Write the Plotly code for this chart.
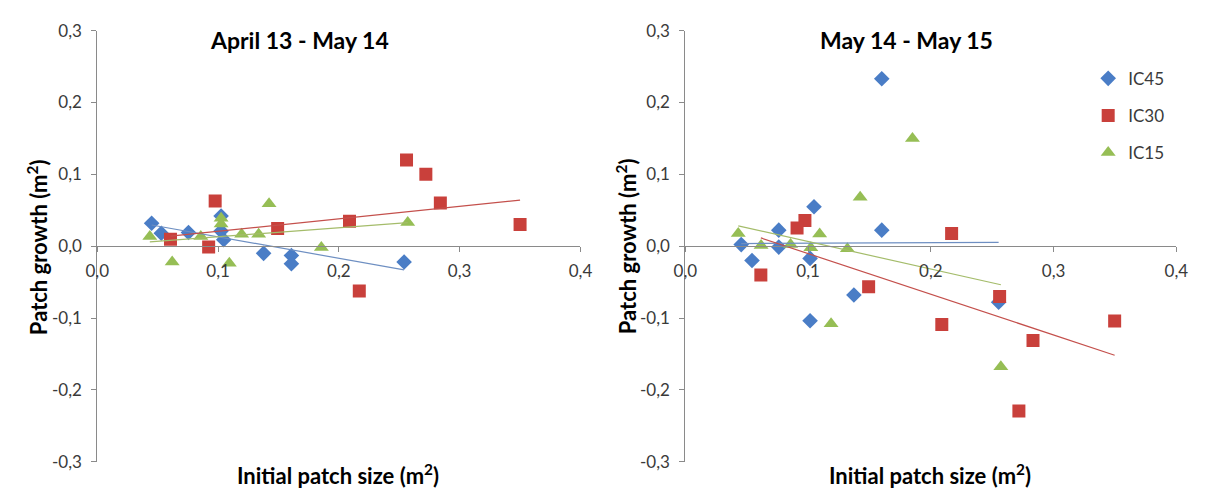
import numpy as np
import plotly.graph_objects as go

# ---------------- data ----------------
x_ticks = [0.0, 0.1, 0.2, 0.3, 0.4]
x_tick_labels = ["0,0", "0,1", "0,2", "0,3", "0,4"]
y_ticks = [-0.3, -0.2, -0.1, 0.0, 0.1, 0.2, 0.3]
y_tick_labels = ["-0,3", "-0,2", "-0,1", "0,0", "0,1", "0,2", "0,3"]

series_names = ["IC45", "IC30", "IC15"]
panel_titles = ["April 13 - May 14", "May 14 - May 15"]
x_title = "Initial patch size (m<sup>2</sup>)"
y_title = "Patch growth (m<sup>2</sup>)"

# Panel 1: April 13 - May 14
p1_ic45_x = [0.045, 0.053, 0.0755, 0.1025, 0.1025, 0.1047, 0.1377, 0.1607, 0.1607, 0.254]
p1_ic45_y = [0.032, 0.018, 0.019, 0.042, 0.021, 0.009, -0.010, -0.013, -0.0245, -0.022]
p1_ic30_x = [0.0606, 0.0922, 0.0976, 0.1493, 0.2088, 0.2169, 0.256, 0.272, 0.284, 0.350]
p1_ic30_y = [0.0098, -0.0013, 0.063, 0.0245, 0.0347, -0.0624, 0.120, 0.100, 0.060, 0.030]
p1_ic15_x = [0.0435, 0.062, 0.0857, 0.1025, 0.1025, 0.1093, 0.1195, 0.1336, 0.1422, 0.1855, 0.257]
p1_ic15_y = [0.0134, -0.022, 0.0134, 0.039, 0.031, -0.0236, 0.0165, 0.0165, 0.059, -0.002, 0.033]

# Panel 2: May 14 - May 15
p2_ic45_x = [0.160, 0.1048, 0.0761, 0.160, 0.0455, 0.0761, 0.0543, 0.1016, 0.1373, 0.1016, 0.2552]
p2_ic45_y = [0.233, 0.0548, 0.0223, 0.0223, 0.0022, -0.0013, -0.020, -0.017, -0.068, -0.1038, -0.078]
p2_ic30_x = [0.0974, 0.091, 0.2169, 0.0615, 0.1493, 0.256, 0.2089, 0.2832, 0.2717, 0.3497]
p2_ic30_y = [0.0357, 0.0254, 0.0178, -0.040, -0.0566, -0.070, -0.109, -0.1314, -0.2294, -0.104]
p2_ic15_x = [0.185, 0.1424, 0.1094, 0.0431, 0.0617, 0.0857, 0.1022, 0.132, 0.1187, 0.257]
p2_ic15_y = [0.150, 0.068, 0.017, 0.0178, 0.001, 0.0023, -0.0022, -0.0036, -0.108, -0.168]

# ---------------- styles ----------------
marker_colors = ["#4A7DC6", "#C9403B", "#96BE55"]
line_colors = ["#6E8FC2", "#C4504C", "#A4BC6A"]
symbols = ["diamond", "square", "triangle-up"]
sizes = [12, 13, 13]
FONT = "Lato"
TXT = "#3a3a3a"

W, H = 1208, 499
def px(v):
    return v / W
def py(v):
    return 1 - v / H

fig = go.Figure()

panels = [
    ([p1_ic45_x, p1_ic30_x, p1_ic15_x], [p1_ic45_y, p1_ic30_y, p1_ic15_y], "x", "y", False),
    ([p2_ic45_x, p2_ic30_x, p2_ic15_x], [p2_ic45_y, p2_ic30_y, p2_ic15_y], "x2", "y2", True),
]

for xs_list, ys_list, xa, ya, show in panels:
    for i in range(3):
        xs = np.array(xs_list[i])
        ys = np.array(ys_list[i])
        fig.add_trace(go.Scatter(
            x=xs, y=ys, mode="markers", name=series_names[i],
            marker=dict(symbol=symbols[i], size=sizes[i], color=marker_colors[i],
                        line=dict(width=0)),
            xaxis=xa, yaxis=ya, showlegend=show, legendgroup=series_names[i],
        ))
    for i in range(3):
        xs = np.array(xs_list[i])
        ys = np.array(ys_list[i])
        k, b = np.polyfit(xs, ys, 1)
        lx = np.array([xs.min(), xs.max()])
        fig.add_trace(go.Scatter(
            x=lx, y=k * lx + b, mode="lines",
            line=dict(color=line_colors[i], width=1.2),
            xaxis=xa, yaxis=ya, showlegend=False, hoverinfo="skip",
        ))

ydom = [py(470.5), py(20.5)]
zero_pos = ydom[0] + (ydom[1] - ydom[0]) * 0.5

axis_common = dict(
    showline=True, linecolor="#8a8a8a", linewidth=1,
    ticks="outside", ticklen=5, tickcolor="#8a8a8a", tickwidth=1,
    showgrid=False, zeroline=False,
    tickfont=dict(family=FONT, size=17, color=TXT),
)

fig.update_layout(
    width=W, height=H,
    margin=dict(l=0, r=0, t=0, b=0),
    paper_bgcolor="white", plot_bgcolor="white",
    font=dict(family=FONT, color=TXT),
    xaxis=dict(domain=[px(87), px(580)], range=[0, 0.4], tickvals=x_ticks,
               ticktext=x_tick_labels, anchor="free", position=zero_pos,
               ticklabelstandoff=4, **axis_common),
    yaxis=dict(domain=ydom, range=[-0.3, 0.3], tickvals=y_ticks,
               ticktext=y_tick_labels, anchor="x", ticklabelstandoff=6, **axis_common),
    xaxis2=dict(domain=[px(687), px(1188)], range=[0, 0.4], tickvals=x_ticks,
                ticktext=x_tick_labels, anchor="free", position=zero_pos,
                ticklabelstandoff=4, **axis_common),
    yaxis2=dict(domain=ydom, range=[-0.3, 0.3], tickvals=y_ticks,
                ticktext=y_tick_labels, anchor="x2", ticklabelstandoff=6, **axis_common),
    legend=dict(x=px(1098), y=py(52), xanchor="left", yanchor="top",
                font=dict(family=FONT, size=17, color=TXT),
                traceorder="grouped", tracegroupgap=12, bgcolor="rgba(0,0,0,0)"),
    showlegend=True,
)

annotations = [
    dict(text="<b>" + panel_titles[0] + "</b>", x=px(293), y=py(30), font=dict(size=23, color="#000")),
    dict(text="<b>" + panel_titles[1] + "</b>", x=px(913), y=py(30), font=dict(size=23, color="#000")),
    dict(text="<b>" + x_title + "</b>", x=px(333), y=py(484), font=dict(size=22, color="#000")),
    dict(text="<b>" + x_title + "</b>", x=px(937), y=py(484), font=dict(size=22, color="#000")),
    dict(text="<b>" + y_title + "</b>", x=px(26), y=py(246), textangle=-90, font=dict(size=22, color="#000")),
    dict(text="<b>" + y_title + "</b>", x=px(627), y=py(246), textangle=-90, font=dict(size=22, color="#000")),
]
for a in annotations:
    a.update(xref="paper", yref="paper", showarrow=False, xanchor="center", yanchor="middle")
    a["font"]["family"] = FONT
fig.update_layout(annotations=annotations)

fig.write_html("out.html")
